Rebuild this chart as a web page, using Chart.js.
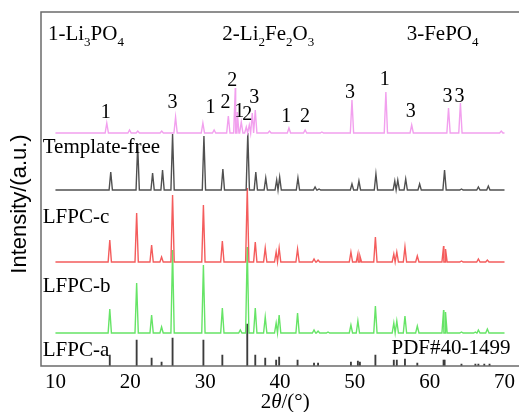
<!DOCTYPE html>
<html>
<head>
<meta charset="utf-8">
<script src="https://cdn.jsdelivr.net/npm/chart.js@4.4.1/dist/chart.umd.min.js"></script>
<style>
  html, body { margin: 0; padding: 0; background: #fff; }
</style>
</head>
<body>
<canvas id="xrd" width="519" height="412"></canvas>
<script>
// ── Data (2θ in degrees, intensity in a.u.) ───────────────────
const scanRange = [10, 70];
const xTicks = [10, 20, 30, 40, 50, 60, 70];

// [2θ, peak height]
const pinkPeaks = [
  [16.86, 10], [19.9, 3], [21.0, 2], [24.2, 2], [26.05, 16], [29.7, 10], [31.2, 3],
  [33.1, 17], [34.03, 45], [34.3, 21], [34.83, 11], [35.5, 6], [35.9, 8], [36.3, 20],
  [36.7, 23], [38.6, 2], [41.2, 5], [43.36, 3], [45.6, 1], [49.62, 33], [54.15, 41],
  [57.6, 8], [62.52, 25], [64.11, 30], [69.57, 2]
];
const grayPeaks = [
  [17.39, 18], [20.99, 45], [22.98, 17], [24.31, 20], [25.65, 56], [29.84, 54], [32.37, 21],
  [35.7, 57], [36.77, 18], [38.1, 12], [39.56, 10], [39.96, 13], [42.4, 12], [44.69, 3],
  [45.22, 1], [49.62, 6], [50.55, 9], [52.82, 16], [55.34, 9], [55.74, 10], [56.8, 11],
  [58.66, 6], [61.99, 20], [64.25, 1], [66.51, 3], [67.84, 4]
];
const redPeaks = [
  [17.26, 22], [20.85, 49], [22.85, 17], [24.18, 5], [25.65, 67], [29.77, 57], [32.3, 21],
  [35.63, 74], [36.7, 20], [38.03, 14], [39.49, 10], [39.89, 14], [42.35, 13], [44.55, 3],
  [45.09, 2], [49.48, 10], [50.41, 8], [50.68, 6], [52.75, 25], [55.21, 8], [55.61, 10],
  [56.7, 15], [58.35, 6], [61.86, 16], [62.12, 13], [64.25, 1], [66.51, 3], [67.71, 2]
];
const greenPeaks = [
  [17.26, 24], [20.85, 50], [22.85, 18], [24.18, 6], [25.65, 83], [29.77, 68], [32.3, 25],
  [34.7, 3], [35.63, 86], [36.7, 25], [38.03, 16], [39.49, 10], [39.89, 18], [42.35, 20],
  [44.55, 3], [45.09, 2], [46.42, 1], [49.48, 8], [50.41, 12], [52.75, 27], [55.21, 10],
  [55.61, 12], [56.7, 17], [58.35, 7], [61.86, 23], [62.12, 21], [64.25, 1], [66.11, 1],
  [66.51, 3], [67.71, 4]
];
// PDF#40-1499 reference lines
const pdfSticks = [
  [17.26, 11], [20.85, 26], [22.85, 8], [24.18, 4], [25.65, 28], [29.77, 26], [32.3, 11],
  [35.63, 42], [36.7, 11], [38.03, 8], [39.49, 6], [39.89, 9], [42.35, 6], [44.55, 3],
  [45.09, 3], [49.48, 4], [50.41, 5], [50.68, 4], [52.75, 11], [55.21, 6], [55.61, 6],
  [56.7, 7], [58.35, 3], [61.86, 6], [62.0, 6], [64.25, 2], [66.11, 2], [66.51, 2],
  [67.3, 2], [68.0, 2]
];

// peak assignments above the pink pattern: [label, 2θ, intensity]
const peakTags = [
  ['1', 16.72, 248], ['3', 25.65, 258], ['1', 30.71, 253], ['2', 32.71, 258],
  ['2', 33.64, 280], ['1', 34.57, 249], ['2', 35.63, 246], ['3', 36.56, 263],
  ['1', 40.83, 244], ['2', 43.36, 244], ['3', 49.35, 268], ['1', 54.01, 281],
  ['3', 57.47, 249], ['3', 62.4, 264], ['3', 64.0, 264]
];
const sampleNames = ['Template-free', 'LFPC-c', 'LFPC-b', 'LFPC-a'];

// ── Stacking (vertical offset of every pattern) ──────────────
const offPink = 233, offGray = 176, offRed = 104, offGreen = 33;
const halfWidth = 0.22;

function pattern(peaks, offset) {
  const pts = [{ x: scanRange[0], y: offset }];
  peaks.forEach(([p, h]) => {
    pts.push({ x: p - halfWidth, y: offset });
    pts.push({ x: p, y: offset + h });
    pts.push({ x: p + halfWidth, y: offset });
  });
  pts.push({ x: scanRange[1], y: offset });
  return pts.sort((a, b) => a.x - b.x);
}

const serif = '"Liberation Serif", "DejaVu Serif", serif';
const sans = '"Liberation Sans", Arial, sans-serif';

// ── Text helper (subscripts / italic parts) ──────────────────
function drawRich(ctx, parts, x, y, size, align) {
  const fontOf = p => (p.it ? 'italic ' : '') + (p.sub ? size * 0.62 : size) + 'px ' + serif;
  let total = 0;
  parts.forEach(p => { ctx.font = fontOf(p); total += ctx.measureText(p.t).width; });
  let cx = align === 'center' ? x - total / 2 : x;
  ctx.textAlign = 'left';
  ctx.textBaseline = 'alphabetic';
  parts.forEach(p => {
    ctx.font = fontOf(p);
    ctx.fillText(p.t, cx, p.sub ? y + size * 0.27 : y);
    cx += ctx.measureText(p.t).width;
  });
}

const decor = {
  id: 'decor',
  afterDraw(chart) {
    const { ctx, chartArea: a, scales: { x, y } } = chart;
    ctx.save();
    // frame: left, top, bottom
    ctx.strokeStyle = '#6b6b6b';
    ctx.lineWidth = 1.5;
    ctx.beginPath();
    ctx.moveTo(a.right + 2, a.top);
    ctx.lineTo(a.left, a.top);
    ctx.lineTo(a.left, a.bottom);
    ctx.lineTo(a.right + 2, a.bottom);
    ctx.stroke();

    ctx.fillStyle = '#000';
    // phase legend
    drawRich(ctx, [{ t: '1-Li' }, { t: '3', sub: 1 }, { t: 'PO' }, { t: '4', sub: 1 }],
      x.getPixelForValue(9.0), y.getPixelForValue(326), 21, 'left');
    drawRich(ctx, [{ t: '2-Li' }, { t: '2', sub: 1 }, { t: 'Fe' }, { t: '2', sub: 1 }, { t: 'O' }, { t: '3', sub: 1 }],
      x.getPixelForValue(32.3), y.getPixelForValue(326), 21, 'left');
    drawRich(ctx, [{ t: '3-FePO' }, { t: '4', sub: 1 }],
      x.getPixelForValue(56.93), y.getPixelForValue(326), 21, 'left');

    // peak tags
    ctx.font = '20px ' + serif;
    ctx.textAlign = 'center';
    ctx.textBaseline = 'alphabetic';
    peakTags.forEach(([t, px, py]) => ctx.fillText(t, x.getPixelForValue(px), y.getPixelForValue(py)));

    // sample names
    ctx.font = '21px ' + serif;
    ctx.textAlign = 'left';
    const nameY = [213, 143, 74, 10];
    sampleNames.forEach((n, i) => ctx.fillText(n, x.getPixelForValue(8.3), y.getPixelForValue(nameY[i])));
    ctx.textAlign = 'right';
    ctx.fillText('PDF#40-1499', x.getPixelForValue(70.8), y.getPixelForValue(12));

    // axis titles
    drawRich(ctx, [{ t: '2' }, { t: 'θ', it: 1 }, { t: '/(°)' }], (a.left + a.right) / 2 + 6, 408, 21, 'center');
    ctx.translate(20, 204);
    ctx.rotate(-Math.PI / 2);
    ctx.font = '22px ' + sans;
    ctx.textAlign = 'center';
    ctx.textBaseline = 'middle';
    ctx.fillText('Intensity/(a.u.)', 0, 0);
    ctx.restore();
  }
};

const line = (data, color) => ({
  type: 'line', data, borderColor: color, borderWidth: 1.4,
  pointRadius: 0, tension: 0, fill: false
});

new Chart(document.getElementById('xrd'), {
  type: 'line',
  data: {
    datasets: [
      line(pattern(pinkPeaks, offPink), '#f2a0ee'),
      line(pattern(grayPeaks, offGray), '#505050'),
      line(pattern(redPeaks, offRed), '#f45c5c'),
      line(pattern(greenPeaks, offGreen), '#66e466'),
      {
        type: 'bar',
        data: pdfSticks.map(([p, h]) => ({ x: p, y: h })),
        backgroundColor: '#3c3c3c',
        barThickness: 1.2
      }
    ]
  },
  options: {
    responsive: false,
    animation: false,
    events: [],
    layout: { padding: { left: 41, top: 12, right: 0, bottom: 12.8 } },
    plugins: { legend: { display: false }, tooltip: { enabled: false } },
    scales: {
      x: {
        type: 'linear', min: 8.07, max: 71.72, offset: false,
        grid: { display: false, drawTicks: false },
        border: { display: false },
        afterBuildTicks: s => { s.ticks = xTicks.map(v => ({ value: v })); },
        ticks: { color: '#000', font: { family: serif, size: 21 }, padding: 4, maxRotation: 0, autoSkip: false }
      },
      y: { type: 'linear', min: 0, max: 354, display: false }
    }
  },
  plugins: [decor]
});
</script>
</body>
</html>
